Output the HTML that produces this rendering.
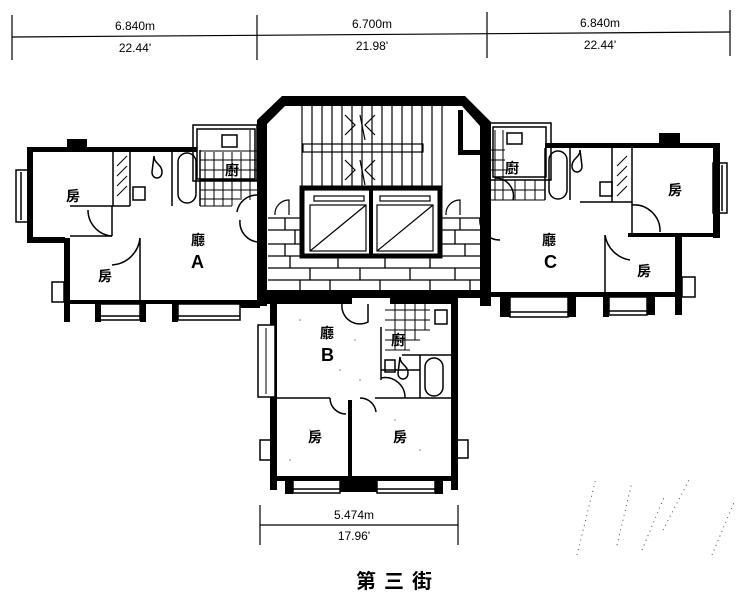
<!DOCTYPE html>
<html><head><meta charset="utf-8"><style>
html,body{margin:0;padding:0;background:#fff}
svg{display:block}
text{font-family:"Liberation Sans","Noto Sans CJK TC",sans-serif;fill:#000}
.c{font-family:"Noto Sans CJK TC","WenQuanYi Zen Hei",sans-serif;font-size:14px;font-weight:bold}
</style></head><body>
<svg width="743" height="599" viewBox="0 0 743 599" xmlns="http://www.w3.org/2000/svg">
<g stroke="#000" stroke-width="1.2" fill="none">
<line x1="12" y1="37" x2="730" y2="32"/>
<line x1="12" y1="15" x2="12" y2="60"/>
<line x1="257" y1="15" x2="257" y2="60"/>
<line x1="487" y1="12" x2="487" y2="58"/>
<line x1="730" y1="10" x2="730" y2="56"/>
</g>
<g font-size="12" text-anchor="middle">
<text x="135" y="30">6.840m</text><text x="135" y="52">22.44'</text>
<text x="372" y="28">6.700m</text><text x="372" y="50">21.98'</text>
<text x="600" y="27">6.840m</text><text x="600" y="49">22.44'</text>
</g>

<!-- Unit A -->
<g fill="#000">
<rect x="27" y="147" width="170" height="5"/>
<rect x="67" y="139" width="20" height="10"/>
<rect x="27" y="147" width="6" height="96"/>
<rect x="27" y="237" width="38" height="6"/>
<rect x="64" y="238" width="6" height="84"/>
<rect x="64" y="300" width="194" height="4"/>
<rect x="95" y="300" width="6" height="22"/>
<rect x="140" y="300" width="6" height="22"/>
<rect x="172" y="300" width="6" height="22"/>
<rect x="240" y="300" width="20" height="8"/>
</g>
<g fill="none" stroke="#000" stroke-width="1.5">
<rect x="16" y="170" width="12" height="52"/><line x1="21" y1="172" x2="21" y2="220"/>
<rect x="100" y="304" width="40" height="16"/><line x1="100" y1="316" x2="140" y2="316"/>
<rect x="178" y="304" width="62" height="16"/><line x1="178" y1="316" x2="240" y2="316"/>
<rect x="52" y="282" width="12" height="20"/>
<rect x="193" y="125" width="64" height="56"/><rect x="197" y="129" width="58" height="50"/>
<rect x="222" y="135" width="15" height="12"/>
<line x1="113" y1="150" x2="113" y2="206"/><line x1="130" y1="150" x2="130" y2="206"/>
<line x1="130" y1="206" x2="70" y2="206"/>
<line x1="112" y1="206" x2="112" y2="236"/>
<line x1="70" y1="236" x2="112" y2="236"/>
<line x1="172" y1="150" x2="172" y2="206"/><line x1="200" y1="150" x2="200" y2="206"/>
<rect x="178" y="153" width="18" height="50" rx="9"/>
<path d="M112 236 A26 26 0 0 1 88 210"/>
<path d="M140 238 L140 300 M140 238 A30 30 0 0 1 112 265"/>
<path d="M240 220 A20 20 0 0 0 258 242"/>
<path d="M237 212 A20 20 0 0 1 257 195"/>
<rect x="133" y="187" width="12" height="13"/>
<path d="M154 156 c0 8 8 8 8 16 c0 8-10 8-10 0 z"/>
</g>
<g stroke="#000" stroke-width="1">
<path d="M200 151 H257 M200 160 H257 M200 170 H257 M200 180 H257 M200 190 H257 M200 199 H240 M200 206 H232"/>
<path d="M205 152 V206 M214 152 V206 M223 152 V206 M232 152 V206 M241 152 V200 M250 130 V200"/>
<path d="M117 196 l10-10 M117 186 l10-10 M117 176 l10-10 M117 166 l10-10"/>
</g>

<!-- Core -->
<g fill="#000">
<path d="M257 120 L282 96 H465 L491 122 V306 H480 V126 L462 106 H285 L267 124 V306 H257 Z"/>
<rect x="257" y="290" width="234" height="8"/>
<rect x="458" y="110" width="5" height="44"/>
<rect x="458" y="150" width="22" height="5"/>
</g>
<g fill="none" stroke="#000" stroke-width="1.2">
<rect x="302" y="102" width="140" height="88"/>
<rect x="303" y="144" width="120" height="8"/>
<path d="M312 103 V188 M322 103 V188 M332 103 V188 M342 103 V188 M352 103 V188 M362 103 V188 M372 103 V188 M382 103 V188 M392 103 V188 M402 103 V188 M412 103 V188 M422 103 V188 M432 103 V188"/>
<path d="M345 115 l10 10 l-10 10 M375 115 l-10 10 l10 10 M360 115 l5 25 M345 160 l10 10 l-10 10 M375 160 l-10 10 l10 10 M360 160 l5 25"/>
<path d="M275 215 A14 14 0 0 1 289 200 V215 M446 215 A14 14 0 0 1 460 200 V215"/>
</g>
<rect x="302" y="188" width="138" height="68" fill="none" stroke="#000" stroke-width="5"/>
<line x1="371" y1="188" x2="371" y2="256" stroke="#000" stroke-width="4"/>
<g fill="none" stroke="#000" stroke-width="1.2">
<rect x="314" y="196" width="50" height="5"/><rect x="380" y="196" width="50" height="5"/>
<rect x="310" y="205" width="56" height="46"/><line x1="310" y1="251" x2="366" y2="205"/>
<rect x="377" y="205" width="56" height="46"/><line x1="377" y1="251" x2="433" y2="205"/>
</g>
<g stroke="#000" stroke-width="1.3" fill="none">
<path d="M268 218 H302 M268 230 H302 M268 244 H302 M268 256 H480 M268 268 H480 M268 280 H480 M441 218 H480 M441 230 H480 M441 244 H480"/>
<path d="M285 218 V230 M295 230 V244 M285 244 V256 M290 256 V268 M310 268 V280 M300 280 V290 M338 256 V268 M360 268 V280 M330 280 V290 M385 256 V268 M410 268 V280 M380 280 V290 M430 256 V268 M455 268 V280 M430 280 V290 M460 218 V230 M455 230 V244 M465 244 V256 M470 280 V290"/>
</g>

<!-- Unit C -->
<g fill="#000">
<rect x="545" y="143" width="175" height="5"/>
<rect x="659" y="133" width="21" height="12"/>
<rect x="713" y="143" width="7" height="95"/>
<rect x="628" y="233" width="90" height="4"/>
<rect x="675" y="235" width="7" height="80"/>
<rect x="490" y="292" width="190" height="5"/>
<rect x="500" y="295" width="10" height="22"/>
<rect x="568" y="295" width="8" height="22"/>
<rect x="603" y="295" width="6" height="22"/>
<rect x="647" y="295" width="8" height="20"/>
</g>
<g fill="none" stroke="#000" stroke-width="1.5">
<rect x="713" y="163" width="14" height="50"/><line x1="722" y1="165" x2="722" y2="211"/>
<rect x="510" y="297" width="58" height="20"/><line x1="510" y1="312" x2="568" y2="312"/>
<rect x="609" y="297" width="38" height="18"/><line x1="609" y1="311" x2="647" y2="311"/>
<rect x="682" y="277" width="13" height="20"/>
<rect x="490" y="123" width="61" height="57"/><rect x="493" y="127" width="53" height="50"/>
<rect x="507" y="133" width="15" height="11"/>
<line x1="545" y1="148" x2="545" y2="200"/><line x1="570" y1="148" x2="570" y2="200"/>
<rect x="549" y="151" width="18" height="48" rx="9"/>
<line x1="612" y1="148" x2="612" y2="202"/><line x1="632" y1="148" x2="632" y2="233"/>
<line x1="580" y1="202" x2="632" y2="202"/>
<path d="M632 205 A26 26 0 0 1 660 232"/>
<path d="M605 235 V292 M605 235 A30 30 0 0 0 630 260"/>
<path d="M480 218 A20 20 0 0 0 500 240"/>
<rect x="600" y="182" width="12" height="14"/>
<path d="M580 150 c0 8 -8 8 -8 16 c0 8 10 8 10 0 z"/>
<path d="M495 178 A18 18 0 0 1 513 200"/>
</g>
<g stroke="#000" stroke-width="1">
<path d="M490 150 H505 M490 160 H505 M490 170 H510 M490 180 H545 M490 190 H545 M490 200 H545 M495 130 V200 M503 130 V200 M515 180 V200 M525 180 V200 M535 180 V200"/>
<path d="M617 196 l10-10 M617 186 l10-10 M617 176 l10-10 M617 166 l10-10"/>
</g>

<!-- Unit B -->
<g fill="#000">
<rect x="257" y="297" width="95" height="7"/>
<rect x="390" y="297" width="68" height="7"/>
<rect x="270" y="300" width="7" height="190"/>
<rect x="451" y="300" width="7" height="190"/>
<rect x="270" y="476" width="188" height="5"/>
<rect x="285" y="478" width="8" height="16"/>
<rect x="340" y="478" width="37" height="14"/>
<rect x="435" y="478" width="8" height="16"/>
<rect x="348" y="400" width="4" height="78"/>
</g>
<rect x="258" y="325" width="17" height="72" fill="#fff" stroke="#000" stroke-width="1.5"/>
<line x1="266" y1="328" x2="266" y2="394" stroke="#000"/>
<g fill="none" stroke="#000" stroke-width="1.5">
<rect x="293" y="480" width="47" height="13"/><line x1="293" y1="489" x2="340" y2="489"/>
<rect x="377" y="480" width="58" height="13"/><line x1="377" y1="489" x2="435" y2="489"/>
<rect x="260" y="440" width="12" height="20"/><rect x="456" y="440" width="12" height="18"/>
<line x1="277" y1="398" x2="330" y2="398"/><line x1="375" y1="398" x2="451" y2="398"/>
<path d="M330 398 A16 16 0 0 0 346 414 M360 398 A16 16 0 0 1 376 412"/>
<path d="M342 304 A18 18 0 0 0 368 322 V304"/>
<line x1="381" y1="327" x2="381" y2="380"/><line x1="381" y1="370" x2="420" y2="370"/>
<line x1="420" y1="355" x2="420" y2="398"/><line x1="402" y1="355" x2="451" y2="355"/>
<rect x="425" y="358" width="18" height="38" rx="9"/>
<path d="M381 378 A20 20 0 0 1 405 398"/>
<path d="M400 357 c0 8 8 8 8 16 c0 8-10 8-10 0 z"/>
<rect x="435" y="310" width="12" height="14"/>
<rect x="385" y="360" width="10" height="12"/>
</g>
<g stroke="#000" stroke-width="1">
<path d="M385 310 H430 M385 320 H430 M385 330 H430 M385 340 H420 M385 350 H410 M395 304 V350 M405 304 V350 M415 304 V340 M425 304 V330"/>
</g>
<g fill="#000" opacity="0.5">
<circle cx="300" cy="320" r="0.8"/><circle cx="340" cy="370" r="0.8"/><circle cx="360" cy="380" r="0.8"/><circle cx="310" cy="430" r="0.8"/><circle cx="420" cy="450" r="0.8"/><circle cx="290" cy="460" r="0.8"/><circle cx="355" cy="340" r="0.8"/><circle cx="395" cy="420" r="0.8"/>
</g>

<text class="c" x="66" y="201">房</text>
<text class="c" x="98" y="281">房</text>
<text class="c" x="191" y="245">廳</text>
<text x="191" y="268" font-size="18" font-weight="bold">A</text>
<text class="c" x="225" y="175">廚</text>
<text class="c" x="668" y="195">房</text>
<text class="c" x="637" y="276">房</text>
<text class="c" x="542" y="245">廳</text>
<text x="544" y="268" font-size="18" font-weight="bold">C</text>
<text class="c" x="505" y="173">廚</text>
<text class="c" x="320" y="338">廳</text>
<text x="321" y="361" font-size="18" font-weight="bold">B</text>
<text class="c" x="391" y="345">廚</text>
<text class="c" x="308" y="442">房</text>
<text class="c" x="393" y="442">房</text>

<g stroke="#000" stroke-width="1.2">
<line x1="260" y1="505" x2="260" y2="545"/><line x1="458" y1="505" x2="458" y2="545"/>
<line x1="260" y1="525" x2="458" y2="525"/>
</g>
<text x="354" y="519" font-size="12" text-anchor="middle">5.474m</text>
<text x="354" y="540" font-size="12" text-anchor="middle">17.96'</text>
<text x="398" y="588" text-anchor="middle" font-size="20" font-weight="bold" font-family="'Noto Sans CJK TC',sans-serif" letter-spacing="8">第三街</text>

<g stroke="#000" stroke-width="1" stroke-dasharray="1 4" fill="none" opacity="0.7">
<line x1="577" y1="555" x2="596" y2="478"/><line x1="617" y1="545" x2="632" y2="482"/>
<line x1="642" y1="550" x2="665" y2="495"/><line x1="663" y1="530" x2="690" y2="478"/>
<line x1="712" y1="555" x2="735" y2="500"/>
</g>
</svg>
</body></html>
